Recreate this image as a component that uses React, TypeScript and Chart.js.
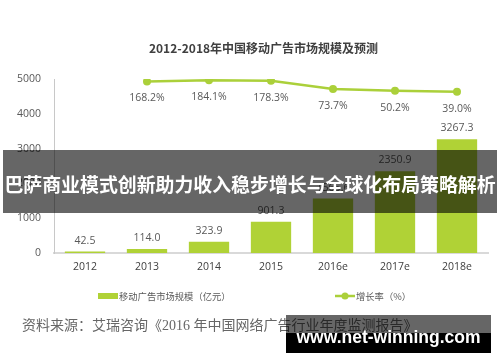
import React, { useEffect, useRef } from 'react';
import { Chart, registerables } from 'chart.js';

Chart.register(...registerables);

// ---- data ----
const categories = ['2012', '2013', '2014', '2015', '2016e', '2017e', '2018e'];
const marketSize = [42.5, 114.0, 323.9, 901.3, 1565.6, 2350.9, 3267.3];
const growthRate: (number | null)[] = [null, 168.2, 184.1, 178.3, 73.7, 50.2, 39.0];
const yTickValues = [0, 1000, 2000, 3000, 4000, 5000];

const TITLE = '2012-2018年中国移动广告市场规模及预测';
const BAR_LABEL = '移动广告市场规模（亿元）';
const LINE_LABEL = '增长率（%）';
const SOURCE = '资料来源：艾瑞咨询《2016 年中国网络广告行业年度监测报告》';
const BANNER = '巴萨商业模式创新助力收入稳步增长与全球化布局策略解析';
const WATERMARK = 'www.net-winning.com';

// ---- styles ----
const FONT = '"Open Sans", "Noto Sans CJK SC", sans-serif';
const CJK = '"Noto Sans CJK SC", sans-serif';
const BAR_GREEN = '#b0d236';
const LINE_GREEN = '#abd03a';

const dataLabels = {
  id: 'dataLabels',
  afterDatasetsDraw(chart: any) {
    const ctx = chart.ctx;
    ctx.save();
    ctx.font = `10.5px ${FONT}`;
    ctx.fillStyle = '#595959';
    ctx.textAlign = 'center';
    ctx.textBaseline = 'middle';
    chart.getDatasetMeta(0).data.forEach((el: any, i: number) => {
      ctx.fillText(marketSize[i].toFixed(1), el.x, el.y - 11);
    });
    chart.getDatasetMeta(1).data.forEach((el: any, i: number) => {
      const v = growthRate[i];
      if (v == null) return;
      ctx.fillText(v.toFixed(1) + '%', el.x, el.y + 17);
    });
    ctx.restore();
  },
};

const decor = {
  id: 'decor',
  afterDraw(chart: any) {
    const ctx = chart.ctx;
    ctx.save();
    // title
    ctx.font = `bold 12px ${CJK}`;
    ctx.fillStyle = '#404040';
    ctx.textAlign = 'center';
    ctx.textBaseline = 'middle';
    ctx.fillText(TITLE, 263.5, 48);

    // legend
    ctx.font = `9.3px ${CJK}`;
    ctx.textAlign = 'left';
    ctx.fillStyle = BAR_GREEN;
    ctx.fillRect(98, 293, 20, 6);
    ctx.fillStyle = '#595959';
    ctx.fillText(BAR_LABEL, 119, 296);

    ctx.strokeStyle = LINE_GREEN;
    ctx.lineWidth = 2.5;
    ctx.beginPath();
    ctx.moveTo(335, 296);
    ctx.lineTo(355, 296);
    ctx.stroke();
    ctx.fillStyle = LINE_GREEN;
    ctx.beginPath();
    ctx.arc(345, 296, 3.5, 0, Math.PI * 2);
    ctx.fill();
    ctx.fillStyle = '#595959';
    ctx.fillText(LINE_LABEL, 356, 296);

    // source
    ctx.font = `14px "Liberation Serif", "Noto Sans CJK SC", serif`;
    ctx.fillStyle = '#666666';
    ctx.fillText(SOURCE, 22, 326);
    ctx.restore();
  },
};

export default function App() {
  const ref = useRef<HTMLCanvasElement | null>(null);

  useEffect(() => {
    if (!ref.current) return;
    const chart = new Chart(ref.current, {
      type: 'bar',
      data: {
        labels: categories,
        datasets: [
          {
            type: 'bar',
            label: BAR_LABEL,
            data: marketSize,
            backgroundColor: BAR_GREEN,
            barPercentage: 0.65,
            categoryPercentage: 1,
            yAxisID: 'y',
            order: 2,
          } as any,
          {
            type: 'line',
            label: LINE_LABEL,
            data: growthRate,
            borderColor: LINE_GREEN,
            backgroundColor: LINE_GREEN,
            borderWidth: 2.5,
            pointRadius: 4,
            pointBorderWidth: 0,
            pointBackgroundColor: LINE_GREEN,
            tension: 0,
            yAxisID: 'y1',
            order: 1,
          } as any,
        ],
      },
      options: {
        responsive: false,
        animation: false,
        layout: { padding: { top: 79, right: 12, bottom: 89, left: 0 } },
        plugins: {
          legend: { display: false },
          title: { display: false },
          tooltip: { enabled: false },
        },
        scales: {
          x: {
            grid: { display: false, drawTicks: false },
            border: { display: true, color: '#d9d9d9', width: 2 },
            ticks: { padding: 8, color: '#404040', font: { size: 10.5, family: FONT } },
            afterFit: (s: any) => {
              s.height = 20;
            },
          },
          y: {
            min: 0,
            max: 5000,
            afterBuildTicks: (s: any) => {
              s.ticks = yTickValues.map((v) => ({ value: v }));
            },
            grid: { display: false, drawTicks: false },
            border: { display: true, color: '#c8c8c8', width: 1 },
            ticks: {
              padding: 13,
              color: '#595959',
              font: { size: 10.5, family: FONT },
              callback: (v: any) => String(v),
            },
            afterFit: (s: any) => {
              s.width = 54;
            },
          },
          y1: { display: false, min: -2015, max: 200 },
        },
      } as any,
      plugins: [dataLabels, decor],
    });
    return () => chart.destroy();
  }, []);

  return (
    <div style={{ position: 'absolute', left: 0, top: 0, width: 500, height: 362, background: '#fff', overflow: 'hidden' }}>
      <canvas ref={ref} width={500} height={362} style={{ display: 'block' }} />
      <div
        style={{
          position: 'absolute', left: 3, top: 150, width: 494, height: 63,
          background: 'rgba(0,0,0,0.6)',
        }}
      />
      <div
        style={{
          position: 'absolute', left: 0, top: 150, width: 500, height: 63,
          display: 'flex', alignItems: 'center', justifyContent: 'center',
          color: '#fff', fontFamily: CJK, fontWeight: 700, fontSize: 18.9,
          whiteSpace: 'nowrap', paddingTop: 3, boxSizing: 'border-box',
        }}
      >
        {BANNER}
      </div>
      <div style={{ position: 'absolute', left: 286, top: 315, width: 205, height: 18, background: 'rgba(0,0,0,0.6)' }} />
      <div style={{ position: 'absolute', left: 286, top: 333, width: 205, height: 20, background: '#000' }} />
      <div
        style={{
          position: 'absolute', left: 286, top: 326, width: 205, height: 22,
          color: '#fff', fontFamily: '"Liberation Sans", sans-serif', fontWeight: 700, fontSize: 17.5,
          lineHeight: '22px', textAlign: 'center', whiteSpace: 'nowrap',
        }}
      >
        {WATERMARK}
      </div>
    </div>
  );
}
